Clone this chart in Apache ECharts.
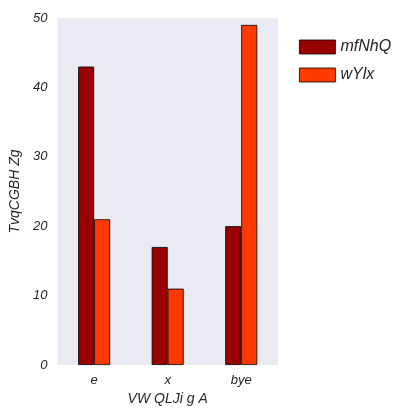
<!DOCTYPE html>
<html><head><meta charset="utf-8">
<script src="https://cdn.jsdelivr.net/npm/echarts@6/dist/echarts.min.js"></script>
<style>html,body{margin:0;padding:0;background:#fff}#c{width:420px;height:420px}</style>
</head><body><div id="c"></div>
<script>
var categories = ['e', 'x', 'bye'];
var seriesNames = ['mfNhQ', 'wYlx'];
var mfNhQ = [43, 17, 20];
var wYlx = [21, 11, 49];
var colors = ['#990000', '#ff3a00'];

var chart = echarts.init(document.getElementById('c'));
var font = 'Liberation Sans';
chart.setOption({
    animation: false,
    grid: { left: 57, top: 18, width: 221, height: 347, backgroundColor: '#eaeaf2', show: true, borderWidth: 0 },
    legend: {
        left: 294, top: 34, orient: 'vertical', icon: 'rect', itemWidth: 36, itemHeight: 14, itemGap: 12,
        textStyle: { fontFamily: font, fontStyle: 'italic', fontSize: 16, color: '#262626' },
        itemStyle: { borderColor: '#000', borderWidth: 0.8 },
        data: seriesNames
    },
    xAxis: {
        type: 'category', data: categories,
        axisLine: { show: false }, axisTick: { show: false },
        axisLabel: { fontFamily: font, fontStyle: 'italic', fontSize: 13, color: '#262626', margin: 9 },
        name: 'VW QLJi g A', nameLocation: 'middle', nameGap: 27,
        nameTextStyle: { fontFamily: font, fontStyle: 'italic', fontSize: 14, color: '#262626' }
    },
    yAxis: {
        type: 'value', min: 0, max: 50, interval: 10,
        splitLine: { show: false }, axisLine: { show: false }, axisTick: { show: false },
        axisLabel: { fontFamily: font, fontStyle: 'italic', fontSize: 13, color: '#262626', margin: 10 },
        name: 'TvqCGBH Zg', nameLocation: 'middle', nameGap: 33,
        nameTextStyle: { fontFamily: font, fontStyle: 'italic', fontSize: 14, color: '#262626' }
    },
    series: [
        { name: seriesNames[0], type: 'bar', data: mfNhQ, barWidth: 16, barGap: '0%',
          itemStyle: { color: colors[0], borderColor: '#000', borderWidth: 0.8 } },
        { name: seriesNames[1], type: 'bar', data: wYlx, barWidth: 16, barGap: '0%',
          itemStyle: { color: colors[1], borderColor: '#000', borderWidth: 0.8 } }
    ]
});
</script></body></html>
